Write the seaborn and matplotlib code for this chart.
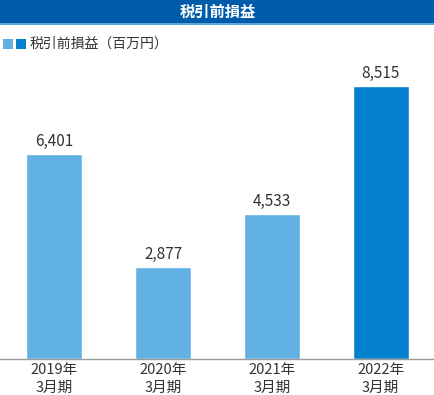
import matplotlib
matplotlib.use("Agg")
import matplotlib.pyplot as plt
import seaborn as sns
import pandas as pd
from matplotlib.patches import Rectangle

categories = ["2019年\n3月期", "2020年\n3月期", "2021年\n3月期", "2022年\n3月期"]
values = [6401, 2877, 4533, 8515]
labels = ["6,401", "2,877", "4,533", "8,515"]
kinds = ["past", "past", "past", "latest"]
title = "税引前損益"
legend_text = "税引前損益（百万円）"

light = "#62B1E5"
dark = "#0280CE"

sns.set_theme(style="white")
plt.rcParams["font.family"] = ["Noto Sans CJK JP", "DejaVu Sans"]

W, H = 435, 395
fig = plt.figure(figsize=(W / 100, H / 100), dpi=100)

top_px, base_px = 60, 359
ax = fig.add_axes([0, (H - base_px) / H, 1, (base_px - top_px) / H])

df = pd.DataFrame({"cat": categories, "val": values, "kind": kinds})
sns.barplot(data=df, x="cat", y="val", hue="kind",
            palette={"past": light, "latest": dark},
            width=0.515, dodge=False, legend=False, ax=ax, saturation=1)

ax.set_xlim(-0.5, 3.5)
ymax = 8515 * (base_px - top_px) / (base_px - 86)
ax.set_ylim(0, ymax)
for s in ["top", "right", "left"]:
    ax.spines[s].set_visible(False)
ax.spines["bottom"].set_color("#9a9a9a")
ax.spines["bottom"].set_linewidth(1.0)
ax.set_yticks([])
ax.set_xlabel("")
ax.set_ylabel("")
ax.tick_params(axis="x", length=0, pad=3, labelsize=10.5, labelcolor="#333333")
for lab in ax.get_xticklabels():
    lab.set_linespacing(1.35)

for i, (v, t) in enumerate(zip(values, labels)):
    ax.annotate(t, (i, v), xytext=(0, 3), textcoords="offset points",
                ha="center", va="bottom", fontsize=11, color="#333333")

# title bar
fig.patches.append(Rectangle((0, 1 - 23 / H), 1, 23 / H, transform=fig.transFigure,
                             facecolor="#005CAB", edgecolor="none", zorder=0))
fig.patches.append(Rectangle((0, 1 - 25 / H), 1, 2 / H, transform=fig.transFigure,
                             facecolor="#5FA8DE", edgecolor="none", zorder=0))
fig.text(0.5, 1 - 11.5 / H, title, ha="center", va="center", color="white",
         fontsize=11, fontweight="bold")

# legend
sq = 10
fig.patches.append(Rectangle((3 / W, 1 - 49 / H), sq / W, sq / H, transform=fig.transFigure,
                             facecolor=light, edgecolor="none"))
fig.patches.append(Rectangle((16 / W, 1 - 49 / H), sq / W, sq / H, transform=fig.transFigure,
                             facecolor=dark, edgecolor="none"))
fig.text(30 / W, 1 - 44 / H, legend_text, ha="left", va="center", fontsize=10,
         color="#333333")

fig.savefig("out.png", dpi=100)
